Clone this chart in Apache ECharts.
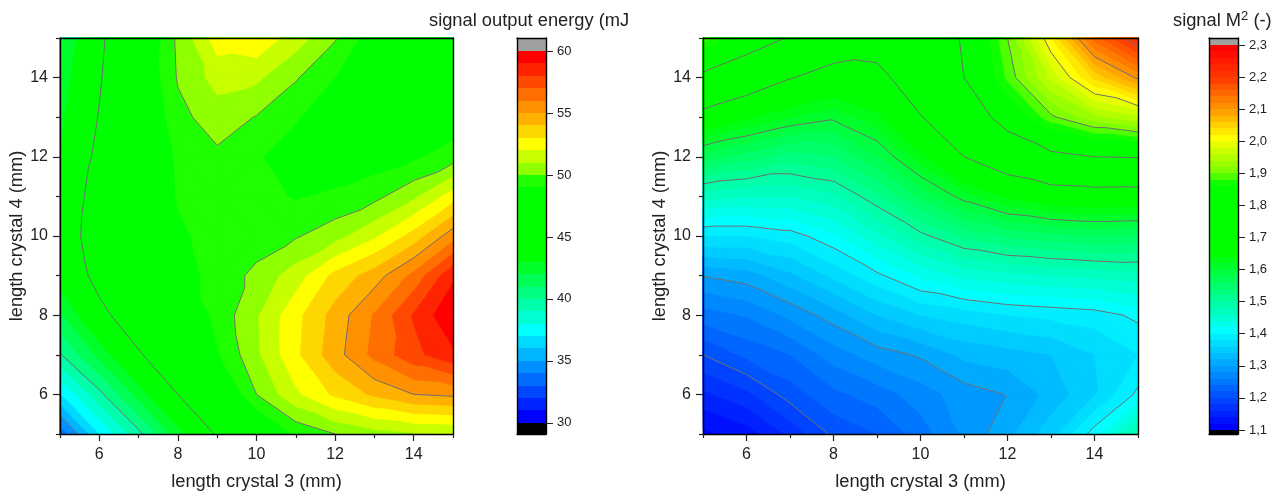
<!DOCTYPE html>
<html><head><meta charset="utf-8">
<style>html,body{margin:0;padding:0;background:#fff}#c{width:1282px;height:491px}</style>
<script src="https://cdn.jsdelivr.net/npm/echarts@6/dist/echarts.min.js"></script>
</head><body><div id="c"></div>
<script>
const crystal3 = [5,6,7,8,9,10,11,12,13,14,15];
const crystal4 = [15,14,13,12,11,10,9,8,7,6,5];
const majorTicks = [6,8,10,12,14];
const minorTicks = [5,7,9,11,13,15];

const energy = [
 [41.8,44.6,47.4,50.2,52.5,52.8,51.5,50.1,48.3,47.9,47.8],
 [42.3,44.8,47.7,50.1,51.4,51.2,50.1,49.0,48.3,47.9,47.8],
 [42.7,45.1,47.5,49.7,50.5,49.95,49.1,48.3,48.0,48.0,48.3],
 [43.0,45.5,47.4,49.2,49.8,49.1,48.5,48.2,48.4,48.8,49.5],
 [43.7,45.8,47.3,49.1,49.4,49.4,48.9,49.2,49.7,50.8,52.5],
 [44.0,45.9,47.3,48.8,49.4,49.4,49.9,50.6,51.8,53.4,55.6],
 [43.5,45.6,47.0,48.6,49.3,50.3,51.5,53.3,54.5,56.3,58.8],
 [41.8,44.5,46.2,47.8,49.3,50.9,52.7,54.4,56.1,58.1,59.9],
 [39.9,42.3,44.8,46.6,48.9,50.8,52.8,54.6,56.3,57.7,58.8],
 [36.9,39.7,42.4,45.0,47.4,50.0,51.8,53.2,54.2,55.0,55.2],
 [33.3,37.0,39.7,42.6,45.2,47.3,49.2,50.0,50.6,50.9,51.0]
];
const beam = [
 [1.89,1.84,1.795,1.745,1.73,1.76,1.805,1.90,2.02,2.15,2.225],
 [1.786,1.745,1.703,1.675,1.682,1.74,1.80,1.885,1.965,2.045,2.105],
 [1.678,1.645,1.62,1.605,1.633,1.697,1.75,1.83,1.895,1.935,1.957],
 [1.57,1.55,1.53,1.54,1.578,1.635,1.70,1.745,1.785,1.80,1.803],
 [1.468,1.46,1.46,1.475,1.515,1.565,1.61,1.645,1.665,1.67,1.668],
 [1.38,1.38,1.39,1.415,1.455,1.493,1.525,1.543,1.553,1.56,1.557],
 [1.301,1.31,1.335,1.365,1.395,1.425,1.445,1.455,1.46,1.465,1.47],
 [1.25,1.262,1.285,1.31,1.34,1.36,1.37,1.38,1.385,1.39,1.405],
 [1.2,1.225,1.24,1.27,1.29,1.303,1.325,1.332,1.34,1.36,1.38],
 [1.155,1.175,1.21,1.235,1.25,1.27,1.29,1.301,1.327,1.358,1.405],
 [1.115,1.13,1.165,1.205,1.22,1.25,1.283,1.315,1.352,1.41,1.49]
];

const energyTicks = [30,35,40,45,50,55,60];
const energyContours = [35,40,45,50,55];
const energyBandStart = [30,31,32,33,34,35,36,37,38,39,40,41,42,43,44,45,46,47,48,49,50,51,52,53,54,55,56,57,58,59];
const energyBandColor = ['#0000ff','#0024ff','#0048ff','#006dff','#0090ff','#00b6ff','#00daff','#00ffff','#00ffd5','#00ffaa',
 '#00ff80','#00ff55','#00ff2a','#00ff00','#00ff00','#00ff00','#00ff00','#00ff00','#00ff00','#20ff00',
 '#90ff00','#c8ff00','#ffff00','#ffd700','#ffb000','#ff9000','#ff6e00','#ff4800','#ff2400','#ff0000'];

const beamTicks = [1.1,1.2,1.3,1.4,1.5,1.6,1.7,1.8,1.9,2.0,2.1,2.2,2.3];
const beamContours = [1.2,1.3,1.4,1.5,1.6,1.7,1.8,1.9,2.0,2.1,2.2];
const beamStopValue = [1.11,1.41,1.65,1.85,1.87,1.89,1.91,2.01,2.10,2.19,2.29];
const beamStopColor = [[0,0,255],[0,255,255],[0,255,0],[0,255,0],[16,255,0],[80,255,0],[128,255,0],[255,255,0],[255,152,0],[255,64,0],[255,0,0]];

const FONT = '"Liberation Sans", Arial, sans-serif';
const INK = '#222';

function beamColor(v){
  let i = 0;
  while (i < beamStopValue.length-2 && v > beamStopValue[i+1]) i++;
  const t = Math.min(1, Math.max(0, (v-beamStopValue[i])/(beamStopValue[i+1]-beamStopValue[i])));
  const a = beamStopColor[i], b = beamStopColor[i+1];
  return 'rgb('+a.map((c,k)=>Math.round(c+(b[k]-c)*t)).join(',')+')';
}
const beamBands = [];
for (let k = 0; k < 60; k++) { const lo = +(1.1+k*0.02).toFixed(2); beamBands.push([lo, +(lo+0.02).toFixed(2), beamColor(lo+0.01)]); }
const energyBands = energyBandStart.map((s,i)=>[s, s+1, energyBandColor[i]]);

function clipAbove(poly, level){
  const out = [];
  for (let i = 0; i < poly.length; i++){
    const a = poly[i], b = poly[(i+1)%poly.length];
    const ina = a[2] >= level, inb = b[2] >= level;
    if (ina) out.push(a);
    if (ina !== inb){
      const t = (level-a[2])/(b[2]-a[2]);
      out.push([a[0]+(b[0]-a[0])*t, a[1]+(b[1]-a[1])*t, level]);
    }
  }
  return out;
}
function trianglesOf(grid){
  const out = [];
  const p = (ii,jj)=>[crystal3[ii], crystal4[jj], grid[jj][ii]];
  for (let j = 0; j < crystal4.length-1; j++) for (let i = 0; i < crystal3.length-1; i++){
    const A = p(i,j), B = p(i+1,j), C = p(i+1,j+1), D = p(i,j+1);
    if (Math.abs(A[2]-C[2]) <= Math.abs(B[2]-D[2])) out.push([A,B,C],[A,C,D]);
    else out.push([A,B,D],[B,C,D]);
  }
  return out;
}
// One item per band, painted from the lowest level up; the last item holds the contour lines.
function contourRender(grid, bands, contours){
  const tris = trianglesOf(grid);
  return function(params, api){
    const k = api.value(2);
    const px = q => api.coord([q[0],q[1]]);
    const children = [];
    if (k < bands.length){
      const lo = k === 0 ? -Infinity : bands[k][0], c = bands[k][2];
      tris.forEach(tri=>{
        const zs = tri.map(q=>q[2]);
        if (Math.max(...zs) < lo) return;
        const poly = lo === -Infinity ? tri : clipAbove(tri, lo);
        if (poly.length >= 3) children.push({type:'polygon', shape:{points:poly.map(px)}, style:{fill:c, stroke:c, lineWidth:0.5}, silent:true});
      });
    } else {
      tris.forEach(tri=>{
        const zs = tri.map(q=>q[2]), mn = Math.min(...zs), mx = Math.max(...zs);
        contours.forEach(L=>{
          if (L < mn || L > mx) return;
          const pts = [];
          for (let m = 0; m < 3; m++){
            const a = tri[m], b = tri[(m+1)%3];
            if ((a[2] >= L) !== (b[2] >= L)){
              const t = (L-a[2])/(b[2]-a[2]);
              pts.push([a[0]+(b[0]-a[0])*t, a[1]+(b[1]-a[1])*t]);
            }
          }
          if (pts.length === 2){
            const s = px(pts[0]), e = px(pts[1]);
            children.push({type:'line', shape:{x1:s[0],y1:s[1],x2:e[0],y2:e[1]}, style:{stroke:'#6f6f70', lineWidth:1}, silent:true});
          }
        });
      });
    }
    return {type:'group', children};
  };
}
function layers(bands){
  const out = [];
  for (let k = 0; k <= bands.length; k++) out.push([5, 5, k]);
  return out;
}
function barRender(params, api){
  const a = api.coord([0, api.value(0)]), b = api.coord([1, api.value(1)]);
  const y0 = Math.round(b[1]), y1 = Math.round(a[1]);
  return {type:'rect', shape:{x:a[0], y:y0, width:b[0]-a[0], height:y1-y0}, style:{fill:api.value(2)}, silent:true};
}

const grids = [
 {left:60, top:38, width:393, height:396, outerBoundsMode:'none'},
 {left:517, top:38, width:29, height:396, outerBoundsMode:'none'},
 {left:703, top:38, width:435, height:396, outerBoundsMode:'none'},
 {left:1209, top:38, width:29, height:396, outerBoundsMode:'none'}
];
const nameStyle = {color:INK, fontFamily:FONT, fontSize:18.3};
const line = {show:true, lineStyle:{color:'#000', width:1.4}};

function plotAxes(g, xA, yA){
  xA.push(
   {gridIndex:g, type:'value', min:5, max:15, position:'bottom', z:5, name:'length crystal 3 (mm)', nameLocation:'middle', nameGap:39, nameTextStyle:nameStyle,
    axisLine:{...line,onZero:false}, splitLine:{show:false}, axisTick:{show:true, length:7, customValues:majorTicks, lineStyle:{color:'#222',width:1.2}},
    axisLabel:{color:INK, fontFamily:FONT, fontSize:16, margin:13, customValues:majorTicks}},
   {gridIndex:g, type:'value', min:5, max:15, position:'bottom', z:5, axisLine:{show:false}, splitLine:{show:false},
    axisTick:{show:true, length:4, customValues:minorTicks, lineStyle:{color:'#222',width:1.2}}, axisLabel:{show:false}},
   {gridIndex:g, type:'value', min:5, max:15, position:'top', z:5, axisLine:{...line,onZero:false}, splitLine:{show:false}, axisTick:{show:false}, axisLabel:{show:false}}
  );
  yA.push(
   {gridIndex:g, type:'value', min:5, max:15, position:'left', z:5, name:'length crystal 4 (mm)', nameLocation:'middle', nameGap:33, nameTextStyle:nameStyle,
    axisLine:{...line,onZero:false}, splitLine:{show:false}, axisTick:{show:true, length:7, customValues:majorTicks, lineStyle:{color:'#222',width:1.2}},
    axisLabel:{color:INK, fontFamily:FONT, fontSize:16, margin:12, customValues:majorTicks}},
   {gridIndex:g, type:'value', min:5, max:15, position:'left', z:5, axisLine:{show:false}, splitLine:{show:false},
    axisTick:{show:true, length:4, customValues:minorTicks, lineStyle:{color:'#222',width:1.2}}, axisLabel:{show:false}},
   {gridIndex:g, type:'value', min:5, max:15, position:'right', z:5, axisLine:{...line,onZero:false}, splitLine:{show:false}, axisTick:{show:false}, axisLabel:{show:false}}
  );
}
function barAxes(g, xA, yA, min, max, ticks, fmt){
  xA.push(
   {gridIndex:g, type:'value', min:0, max:1, position:'bottom', z:5, axisLine:{...line,onZero:false}, axisTick:{show:false}, axisLabel:{show:false}, splitLine:{show:false}},
   {gridIndex:g, type:'value', min:0, max:1, position:'top', z:5, axisLine:{...line,onZero:false}, axisTick:{show:false}, axisLabel:{show:false}, splitLine:{show:false}}
  );
  yA.push(
   {gridIndex:g, type:'value', min:min, max:max, position:'right', z:5, axisLine:{...line,onZero:false}, splitLine:{show:false},
    axisTick:{show:true, length:7, customValues:ticks, lineStyle:{color:'#222',width:1}},
    axisLabel:{color:INK, fontFamily:FONT, fontSize:13, margin:11, customValues:ticks, formatter:fmt}},
   {gridIndex:g, type:'value', min:min, max:max, position:'left', z:5, axisLine:{...line,onZero:false}, axisTick:{show:false}, axisLabel:{show:false}, splitLine:{show:false}}
  );
}
const xA = [], yA = [];
plotAxes(0, xA, yA);            // x 0-2, y 0-2
barAxes(1, xA, yA, 29.1, 61.05, energyTicks, v=>String(Math.round(v))); // x 3-4, y 3-4
plotAxes(2, xA, yA);            // x 5-7, y 5-7
barAxes(3, xA, yA, 1.0875, 2.3219, beamTicks, v=>v.toFixed(1).replace('.',',')); // x 8-9, y 8-9

const energyBarData = [[29.1,30,'#000000']].concat(energyBands).concat([[60,61.05,'#a0a0a0']]);
const beamBarData = [[1.0875,1.1,'#000000']].concat(beamBands).concat([[2.3,2.3219,'#a0a0a0']]);

const option = {
  animation:false, backgroundColor:'#fff',
  title:[
    {text:'signal output energy (mJ', left:424, top:7, textStyle:{color:INK, fontFamily:FONT, fontSize:18.3, fontWeight:'normal'}},
    {text:'{a|signal M}{s|2}{a| (-)}', left:1168, top:5, textStyle:{rich:{
      a:{color:INK, fontFamily:FONT, fontSize:18.3, fontWeight:'normal', lineHeight:22},
      s:{color:INK, fontFamily:FONT, fontSize:13, fontWeight:'normal', verticalAlign:'top', lineHeight:14}}}}
  ],
  grid:grids,
  xAxis:xA, yAxis:yA,
  series:[
    {type:'custom', xAxisIndex:0, yAxisIndex:0, z:1, renderItem:contourRender(energy, energyBands, energyContours), data:layers(energyBands), encode:{x:0,y:1}, silent:true},
    {type:'custom', xAxisIndex:3, yAxisIndex:3, z:1, renderItem:barRender, data:energyBarData, encode:{y:0}, silent:true},
    {type:'custom', xAxisIndex:5, yAxisIndex:5, z:1, renderItem:contourRender(beam, beamBands, beamContours), data:layers(beamBands), encode:{x:0,y:1}, silent:true},
    {type:'custom', xAxisIndex:8, yAxisIndex:8, z:1, renderItem:barRender, data:beamBarData, encode:{y:0}, silent:true}
  ]
};
echarts.init(document.getElementById('c'), null, {renderer:'canvas'}).setOption(option);
</script></body></html>
